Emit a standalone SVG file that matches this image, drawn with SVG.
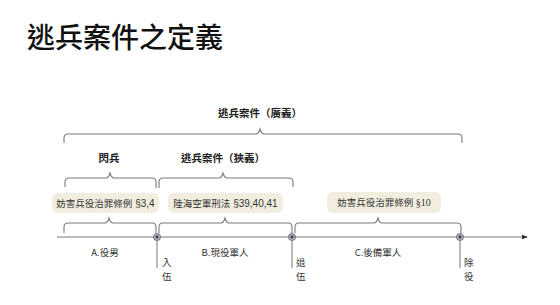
<svg xmlns="http://www.w3.org/2000/svg" width="560" height="305" viewBox="0 0 560 305">
<defs>
<style>
text{font-family:"Noto Sans CJK TC","Noto Sans CJK SC",sans-serif;fill:#333}
.title{font-size:28px;fill:#111;font-weight:500}
.hd{font-size:10.5px;font-weight:bold;text-anchor:middle;fill:#222}
.lb{font-size:9.5px;text-anchor:middle}
.vl{font-size:9.5px}
.la{font-family:"Liberation Sans",Arial,sans-serif;font-size:10px}
.box{fill:#f2eedf;stroke:none}
.br{fill:none;stroke:#7a7a7a;stroke-width:1.1}
.ax{fill:none;stroke:#777;stroke-width:1}
.dot{fill:#a9aab6;stroke:#6b6b78;stroke-width:0.8}
.dc{fill:#3a3a48}
</style>
<marker id="arr" viewBox="0 0 6 6" refX="5" refY="3" markerWidth="6" markerHeight="6" orient="auto" markerUnits="userSpaceOnUse">
<path d="M0,0.8 L6,3 L0,5.2z" fill="#333"/>
</marker>
</defs>
<text class="title" x="27" y="48">逃兵案件之定義</text>

<g id="connectors">
<path class="br" d="M64,143 L64,138 Q64,134 68,134 L256,134 Q258.5,134 260,129 Q261.5,134 264,134 L458,134 Q462,134 462,138 L462,143"/>
<path class="br" d="M65,187 L65,182 Q65,178 69,178 L106,178 Q108.5,178 110,173 Q111.5,178 114,178 L152,178 Q156,178 156,182 L156,188"/>
<path class="br" d="M159,188 L159,182 Q159,178 163,178 L219,178 Q221.5,178 223,173 Q224.5,178 227,178 L289,178 Q293,178 293,182 L293,187"/>
<path class="br" d="M64,233 L64,227 Q64,223 68,223 L105,223 Q107.5,223 109,218 Q110.5,223 113,223 L152,223 Q156,223 156,227 L156,233"/>
<path class="br" d="M159,233 L159,227 Q159,223 163,223 L221,223 Q223.5,223 225,218 Q226.5,223 229,223 L288,223 Q292,223 292,227 L292,233"/>
<path class="br" d="M295,233 L295,227 Q295,223 299,223 L374,223 Q376.5,223 378,218 Q379.5,223 382,223 L457,223 Q461,223 461,227 L461,233"/>
<path class="ax" d="M57,237 L527,237" marker-end="url(#arr)"/>
<path class="ax" d="M157,237 L157,268 M292,237 L292,268 M460,237 L460,268"/>
</g>

<g id="label-broad"><text class="hd" x="260" y="117">逃兵案件（廣義）</text></g>
<g id="label-shanbing"><text class="hd" x="109" y="162">閃兵</text></g>
<g id="label-narrow"><text class="hd" x="223" y="162">逃兵案件（狹義）</text></g>

<g id="box1"><rect class="box" x="52" y="193" width="107" height="20" rx="6"/><text class="lb" x="105.5" y="206.5">妨害兵役治罪條例<tspan class="la"> §3,4</tspan></text></g>
<g id="box2"><rect class="box" x="168" y="193" width="115" height="20" rx="6"/><text class="lb" x="225.5" y="206.5">陸海空軍刑法<tspan class="la"> §39,40,41</tspan></text></g>
<g id="box3"><rect class="box" x="327" y="192" width="114" height="21" rx="6"/><text class="lb" x="384" y="206">妨害兵役治罪條例<tspan style="font-family:'Liberation Serif',serif;font-size:10px"> §10</tspan></text></g>

<g id="node-enlist"><circle class="dot" cx="157" cy="237" r="3.6"/><circle class="dc" cx="157" cy="237" r="1.4"/><text class="vl" x="162" y="266">入</text><text class="vl" x="162" y="280">伍</text></g>
<g id="node-retire"><circle class="dot" cx="292" cy="237" r="3.6"/><circle class="dc" cx="292" cy="237" r="1.4"/><text class="vl" x="296" y="266">退</text><text class="vl" x="296" y="280">伍</text></g>
<g id="node-discharge"><circle class="dot" cx="460" cy="237" r="3.6"/><circle class="dc" cx="460" cy="237" r="1.4"/><text class="vl" x="464" y="266">除</text><text class="vl" x="464" y="280">役</text></g>

<g id="seg-a"><text class="lb" x="105" y="256">A.役男</text></g>
<g id="seg-b"><text class="lb" x="225" y="256">B.現役軍人</text></g>
<g id="seg-c"><text class="lb" x="378" y="256">C.後備軍人</text></g>
</svg>
